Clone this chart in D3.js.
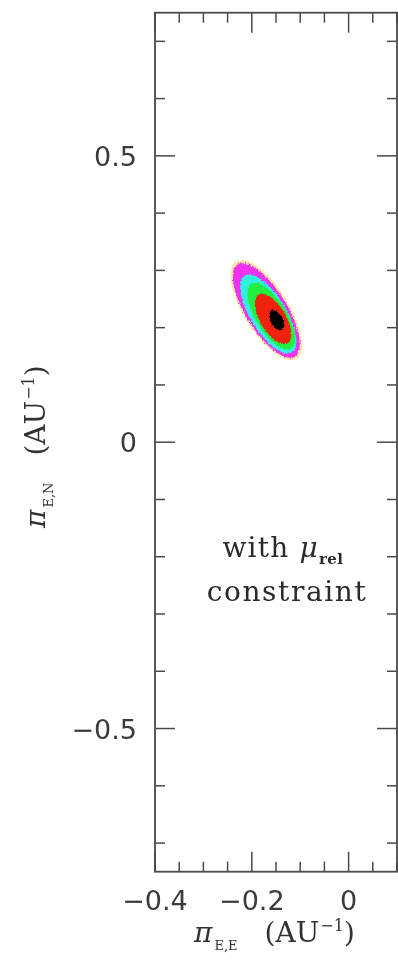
<!DOCTYPE html>
<html>
<head>
<meta charset="utf-8">
<script src="https://cdn.jsdelivr.net/npm/d3@7"></script>
<style>
  html, body { margin: 0; padding: 0; background: #fff; }
  svg { display: block; }
</style>
</head>
<body>
<svg id="chart" width="398" height="961"></svg>
<script>
// Microlensing parallax posterior (pi_E,E vs pi_E,N) with the mu_rel constraint.
// Each confidence level is summarised by an ellipse in parameter space.
const levelNames  = ["sparse", "5sigma", "4sigma", "3sigma", "2sigma", "1sigma"];
const levelColors = ["#ffc640", "#f030f0", "#30f0e0", "#20f040", "#f02010", "#000000"];
const levelOpacity = [0.45, 1, 1, 1, 1, 1];
const centerEE  = [-0.170, -0.170, -0.166, -0.160, -0.156, -0.149];   // pi_E,E
const centerEN  = [ 0.231,  0.230,  0.224,  0.220,  0.215,  0.213];   // pi_E,N
const semiMajor = [ 0.106,  0.100,  0.0830, 0.0700, 0.052,  0.0200];  // along tilt
const semiMinor = [ 0.044,  0.040,  0.035,  0.030,  0.025,  0.0120];
const tiltDeg = -52;   // orientation of the major axis in (pi_E,E, pi_E,N)

// Axes
const xDomain = [-0.4, 0.1];
const yDomain = [-0.75, 0.75];
const xMajor = [-0.4, -0.2, 0];
const xMajorLabels = ["\u22120.4", "\u22120.2", "0"];
const yMajor = [-0.5, 0, 0.5];
const yMajorLabels = ["\u22120.5", "0", "0.5"];

const svg = d3.select("#chart");
const frame = { left: 155, right: 397, top: 12.7, bottom: 871.7 };

const x = d3.scaleLinear().domain(xDomain).range([frame.left, frame.right]);
const y = d3.scaleLinear().domain(yDomain).range([frame.bottom, frame.top]);

const defs = svg.append("defs");
const soft = defs.append("filter").attr("id", "soft")
  .attr("x", "-5%").attr("y", "-5%").attr("width", "110%").attr("height", "110%");
soft.append("feGaussianBlur").attr("stdDeviation", 0.45);

const grain = defs.append("filter").attr("id", "grain")
  .attr("x", "-20%").attr("y", "-20%").attr("width", "140%").attr("height", "140%");
grain.append("feTurbulence").attr("type", "fractalNoise")
  .attr("baseFrequency", 0.55).attr("numOctaves", 2).attr("seed", 3).attr("result", "noise");
grain.append("feDisplacementMap").attr("in", "SourceGraphic").attr("in2", "noise")
  .attr("scale", 3.5).attr("xChannelSelector", "R").attr("yChannelSelector", "G").attr("result", "disp");
grain.append("feGaussianBlur").attr("in", "disp").attr("stdDeviation", 0.7);

const root = svg.append("g").attr("filter", "url(#soft)");

// Contour ellipses, outermost first
const t = tiltDeg * Math.PI / 180;
const phis = d3.range(0, 2 * Math.PI, Math.PI / 90);
const ring = (i) => phis.map(p => {
  const u = semiMajor[i] * Math.cos(p), v = semiMinor[i] * Math.sin(p);
  return [centerEE[i] + u * Math.cos(t) - v * Math.sin(t),
          centerEN[i] + u * Math.sin(t) + v * Math.cos(t)];
});
const line = d3.line().x(d => x(d[0])).y(d => y(d[1])).curve(d3.curveLinearClosed);

root.append("g").attr("filter", "url(#grain)")
  .selectAll("path").data(levelNames).join("path")
  .attr("d", (d, i) => line(ring(i)))
  .attr("fill", (d, i) => levelColors[i])
  .attr("fill-opacity", (d, i) => levelOpacity[i]);

// Frame and ticks on all four sides, pointing inward
const axisColor = "#4a4a4a";
const majorLen = 20, minorLen = 10;
const xMinor = x.ticks(10);
const yMinor = y.ticks(15);
const isMajor = (v, list) => list.some(m => Math.abs(m - v) < 1e-9);

const ticks = root.append("g").attr("stroke", axisColor).attr("stroke-width", 1.5);
xMinor.forEach(v => {
  const len = isMajor(v, xMajor) ? majorLen : minorLen;
  ticks.append("line").attr("x1", x(v)).attr("x2", x(v)).attr("y1", frame.bottom).attr("y2", frame.bottom - len);
  ticks.append("line").attr("x1", x(v)).attr("x2", x(v)).attr("y1", frame.top).attr("y2", frame.top + len);
});
yMinor.forEach(v => {
  const len = isMajor(v, yMajor) ? majorLen : minorLen;
  ticks.append("line").attr("y1", y(v)).attr("y2", y(v)).attr("x1", frame.left).attr("x2", frame.left + len);
  ticks.append("line").attr("y1", y(v)).attr("y2", y(v)).attr("x1", frame.right).attr("x2", frame.right - len);
});
root.append("rect")
  .attr("x", frame.left).attr("y", frame.top)
  .attr("width", frame.right - frame.left).attr("height", frame.bottom - frame.top)
  .attr("fill", "none").attr("stroke", axisColor).attr("stroke-width", 1.8);

// Tick labels
const tickFont = "'DejaVu Sans', sans-serif";
root.append("g").selectAll("text").data(xMajor).join("text")
  .attr("x", d => x(d)).attr("y", 910)
  .attr("text-anchor", "middle")
  .attr("font-family", tickFont).attr("font-size", 27).attr("fill", "#3a3a3a")
  .text((d, i) => xMajorLabels[i]);
root.append("g").selectAll("text").data(yMajor).join("text")
  .attr("x", 137).attr("y", d => y(d) + 10)
  .attr("text-anchor", "end")
  .attr("font-family", tickFont).attr("font-size", 27).attr("fill", "#3a3a3a")
  .text((d, i) => yMajorLabels[i]);

// Axis titles
const serif = "'DejaVu Serif', serif";
function axisTitle(sel, sub) {
  sel.attr("font-family", serif).attr("font-size", 28).attr("fill", "#333");
  sel.append("tspan").attr("font-style", "italic").text("\u03c0");
  sel.append("tspan").attr("font-size", 13).attr("dy", 8).attr("dx", 2).text(sub);
  sel.append("tspan").attr("dy", -8).attr("dx", 27).text("(AU");
  sel.append("tspan").attr("font-size", 16).attr("dy", -11).attr("dx", 1).text("\u22121");
  sel.append("tspan").attr("dy", 11).text(")");
}
axisTitle(root.append("text").attr("x", 194).attr("y", 942), "E,E");
axisTitle(root.append("text").attr("transform", "translate(45,528) rotate(-90)"), "E,N");

// Annotation
const note = root.append("g").attr("font-family", serif).attr("fill", "#2a2a2a").attr("text-anchor", "middle");
const l1 = note.append("text").attr("x", 283).attr("y", 557).attr("font-size", 28).attr("letter-spacing", 1.2);
l1.append("tspan").text("with ");
l1.append("tspan").attr("font-style", "italic").text("\u03bc");
l1.append("tspan").attr("font-size", 15).attr("font-weight", "bold").attr("dy", 7).attr("letter-spacing", 0.5).text("rel");
note.append("text").attr("x", 287).attr("y", 601).attr("font-size", 28).attr("letter-spacing", 1.6).text("constraint");
</script>
</body>
</html>
